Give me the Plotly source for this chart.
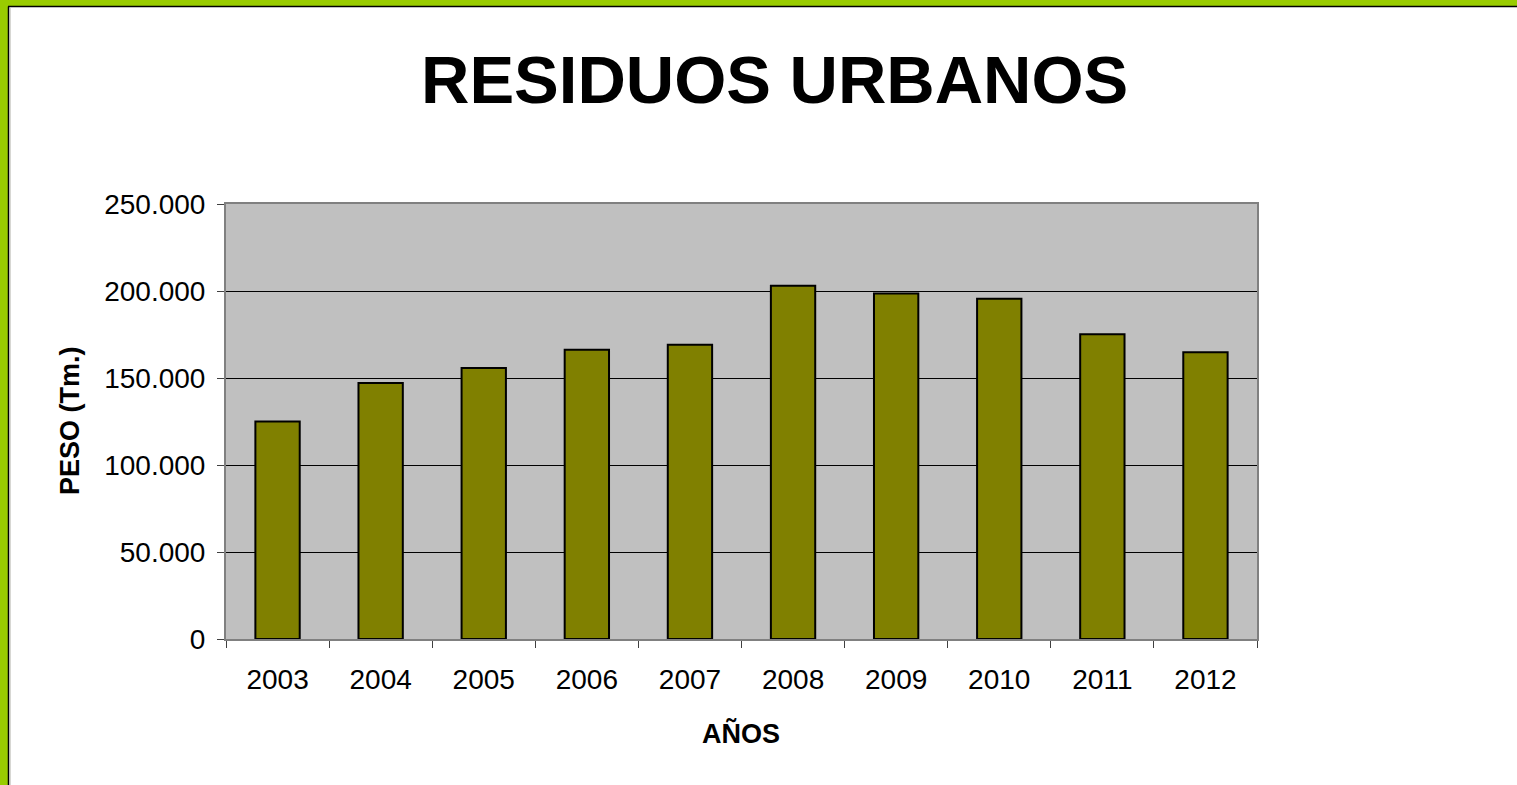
import plotly.graph_objects as go

years = ["2003", "2004", "2005", "2006", "2007", "2008", "2009", "2010", "2011", "2012"]
peso = [125000, 147100, 155700, 166200, 169100, 203000, 198500, 195600, 175100, 164800]
y_ticks = [0, 50000, 100000, 150000, 200000, 250000]

W, H = 1517, 785
L, R, T, B = 226, 1257, 204, 639

def px(x):
    return (x - L) / (R - L)

def py(y):
    return (B - y) / (B - T)

FONT = "Liberation Sans, Arial, sans-serif"

fig = go.Figure()
fig.add_trace(go.Bar(
    x=years, y=peso,
    marker=dict(color="#808000", line=dict(color="black", width=2)),
    width=0.43,
))

shapes = [
    dict(type="rect", xref="paper", yref="paper", x0=px(-5), x1=px(8), y0=py(-5), y1=py(H + 5),
         fillcolor="#99CC00", line=dict(width=0), layer="below"),
    dict(type="rect", xref="paper", yref="paper", x0=px(-5), x1=px(W + 5), y0=py(-5), y1=py(6),
         fillcolor="#99CC00", line=dict(width=0), layer="below"),
    dict(type="line", xref="paper", yref="paper", x0=px(8.5), x1=px(8.5), y0=py(6.5), y1=py(H + 5),
         line=dict(color="black", width=1.5)),
    dict(type="line", xref="paper", yref="paper", x0=px(8), x1=px(W + 5), y0=py(6.5), y1=py(6.5),
         line=dict(color="black", width=1.5)),
    dict(type="line", xref="paper", yref="paper", x0=px(10), x1=px(10), y0=py(8), y1=py(H + 5),
         line=dict(color="#b0b0a8", width=1)),
]

annotations = [
    dict(text="<b>RESIDUOS URBANOS</b>", xref="paper", yref="paper", x=px(774), y=py(80),
         xanchor="center", yanchor="middle", showarrow=False,
         font=dict(family=FONT, size=67, color="black")),
    dict(text="<b>PESO (Tm.)</b>", xref="paper", yref="paper", x=px(70), y=py(421),
         xanchor="center", yanchor="middle", showarrow=False, textangle=-90,
         font=dict(family=FONT, size=27, color="black")),
    dict(text="<b>AÑOS</b>", xref="paper", yref="paper", x=px(741), y=py(733),
         xanchor="center", yanchor="middle", showarrow=False,
         font=dict(family=FONT, size=27, color="black")),
]

fig.update_layout(
    width=W, height=H,
    margin=dict(l=L, r=W - R, t=T, b=H - B, pad=0),
    paper_bgcolor="white",
    plot_bgcolor="#C0C0C0",
    separators=",.",
    showlegend=False,
    font=dict(family=FONT, size=28, color="black"),
    shapes=shapes,
    annotations=annotations,
    bargap=0.57,
)
fig.update_xaxes(
    type="category",
    showline=True, linecolor="#808080", linewidth=2, mirror=True,
    ticks="outside", ticklen=7, tickcolor="#404040", tickson="boundaries",
    tickfont=dict(family=FONT, size=28, color="black"),
    ticklabelstandoff=14,
    showgrid=False,
)
fig.update_yaxes(
    range=[0, 250000], tickvals=y_ticks, tickformat=",.0f",
    showline=True, linecolor="#808080", linewidth=2, mirror=True,
    ticks="outside", ticklen=7, tickcolor="#404040",
    showgrid=True, gridcolor="black", gridwidth=1,
    zeroline=False,
    tickfont=dict(family=FONT, size=28, color="black"),
    ticklabelstandoff=6,
)

fig.write_html(
    "out.html",
    config={"displayModeBar": False},
    post_script="document.body.style.margin='0px';document.body.style.overflow='hidden';",
)
